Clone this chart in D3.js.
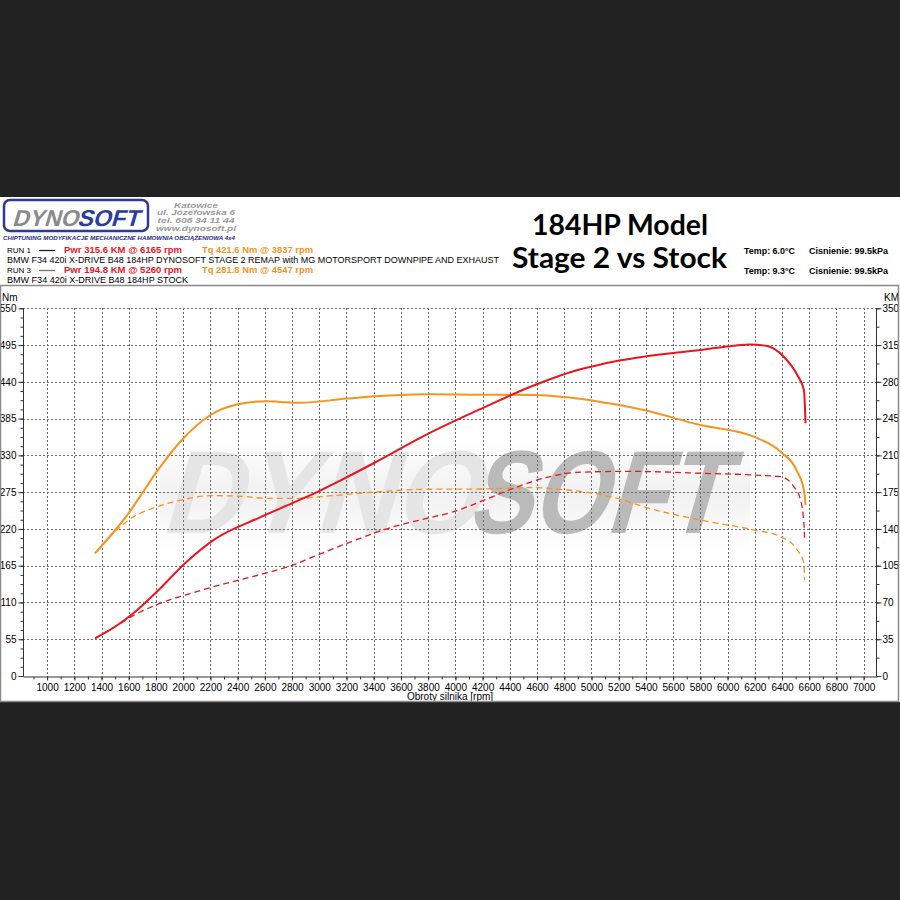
<!DOCTYPE html>
<html><head><meta charset="utf-8">
<script src="https://cdn.jsdelivr.net/npm/d3@7"></script>
<style>body{margin:0;background:#222222;}svg{display:block}</style>
</head><body>
<svg id="c" width="900" height="900"></svg>
<script>
// ---------- DATA ----------
const rpmTicks = [1000,1200,1400,1600,1800,2000,2200,2400,2600,2800,3000,3200,3400,3600,3800,4000,4200,4400,4600,4800,5000,5200,5400,5600,5800,6000,6200,6400,6600,6800,7000];
const nmTicks = [0,55,110,165,220,275,330,385,440,495,550];
const kmTicks = [0,35,70,105,140,175,210,245,280,315,350];

// RUN 1 (Stage 2) torque [Nm]
const run1TqRpm = [1352,1512,1597,1707,1806,1990,2198,2394,2615,2713,2860,3203,3448,3791,3837,4183,4575,4821,5066,5213,5384,5801,6193,6389,6512,6561,6573];
const run1TqNm  = [183.5,221,243,276,305.6,353,390,406,411,410,408.7,415,418.8,421.4,421.6,420.7,420.5,416.8,410,405,397.8,375.4,358,335.5,305.6,278,255.8];
// RUN 1 (Stage 2) power [KM]
const run1PwrRpm = [1352,1499,1634,1806,2026,2222,2565,2810,3007,3154,3399,3791,4183,4575,4918,5066,5213,5384,5801,6046,6165,6291,6413,6512,6561,6573];
const run1PwrKm  = [35.9,46.9,59.7,80.2,108.8,129.4,151,165,176.5,186,202.5,230,254,276.5,292,296.5,300.5,304,310.3,314.4,315.6,314.1,303.9,286.5,272.2,240.5];
// RUN 3 (Stock) torque [Nm]
const run3TqRpm = [1352,1536,1634,1806,2002,2198,2394,2615,2860,3007,3448,3742,4183,4547,4821,5016,5213,5384,5801,6193,6389,6512,6561,6566];
const run3TqNm  = [183.5,223,238,253,264,269.7,269.2,265.8,265.8,268.2,275.7,279.2,279.7,281.8,278.2,273.3,264.3,253.2,233.3,218.4,208.3,188.5,168.6,143.6];
// RUN 3 (Stock) power [KM]
const run3PwrRpm = [1352,1499,1640,1781,1900,2026,2222,2565,2810,2957,3203,3546,3791,3987,4183,4428,4674,4918,5260,5801,6389,6487,6536,6561,6566];
const run3PwrKm  = [35.9,46.9,58,66.5,72.5,77.5,85,96.5,105.7,113.6,126.3,142.1,150.1,156.4,165.9,178.7,189.1,194,194.8,193,189.7,180.2,167.5,145.3,129.4];

// ---------- DRAW ----------
const svg = d3.select('#c');
const RED = '#e8161e', ORANGE = '#f7941d';
const FONT = '"Liberation Sans", Arial, sans-serif';

svg.append('rect').attr('x',0).attr('y',197).attr('width',900).attr('height',505).attr('fill','#ffffff');

const x = d3.scaleLinear().domain([823, 7098]).range([23, 877]);
const yNm = d3.scaleLinear().domain([0, 550]).range([676, 308.3]);
const yKm = d3.scaleLinear().domain([0, 350]).range([676, 308.3]);

// watermark shading
const defs = svg.append('defs');
const g1 = defs.append('linearGradient').attr('id','shade').attr('x1',0).attr('y1',0).attr('x2',0).attr('y2',1);
g1.append('stop').attr('offset','0%').attr('stop-color','#ffffff');
g1.append('stop').attr('offset','50%').attr('stop-color','#f1f1f1');
g1.append('stop').attr('offset','100%').attr('stop-color','#ffffff');
svg.append('rect').attr('x',160).attr('y',438).attr('width',590).attr('height',112).attr('fill','url(#shade)');

// watermark
svg.append('text').attr('transform','translate(160,533) skewX(-16)')
  .attr('font-family',FONT).attr('font-weight','bold').attr('font-size',118)
  .attr('fill','#e5e5e5').attr('textLength',318).attr('lengthAdjust','spacingAndGlyphs').text('DYNO');
svg.append('text').attr('transform','translate(466,533) skewX(-16)')
  .attr('font-family',FONT).attr('font-weight','bold').attr('font-size',118)
  .attr('fill','#bababa').attr('textLength',256).attr('lengthAdjust','spacingAndGlyphs').text('SOFT');

// gridlines
const grid = svg.append('g').attr('stroke','#6a6a6a').attr('stroke-width',1).attr('stroke-dasharray','2,2');
grid.selectAll('line.h').data(nmTicks.slice(1)).join('line')
  .attr('x1',23).attr('x2',877).attr('y1',d=>Math.round(yNm(d))+0.5).attr('y2',d=>Math.round(yNm(d))+0.5);
grid.selectAll('line.v').data(rpmTicks).join('line')
  .attr('x1',d=>Math.round(x(d))+0.5).attr('x2',d=>Math.round(x(d))+0.5).attr('y1',308).attr('y2',676);

// axes
function styleAxis(g){
  g.selectAll('text').attr('font-family',FONT).attr('font-size','10px').attr('fill','#000');
  g.selectAll('line,path').attr('stroke','#333');
}
const minorNm = d3.range(0, 550.01, 13.75);
const minorKm = d3.range(0, 350.01, 17.5);
const minorRpm = d3.range(900, 7001, 100);
const fmt = d3.format('d');

svg.append('g').attr('transform','translate(23.5,0)')
  .call(d3.axisLeft(yNm).tickValues(minorNm).tickSize(3).tickFormat(''))
  .call(g=>g.select('.domain').remove()).call(styleAxis);
svg.append('g').attr('transform','translate(23.5,0)')
  .call(d3.axisLeft(yNm).tickValues(nmTicks).tickFormat(fmt).tickSize(5).tickPadding(2).tickSizeOuter(0)).call(styleAxis)
  .call(g=>g.select('.domain').attr('d','M0,308V676'));

svg.append('g').attr('transform','translate(876.5,0)')
  .call(d3.axisRight(yKm).tickValues(minorKm).tickSize(3).tickFormat(''))
  .call(g=>g.select('.domain').remove()).call(styleAxis);
svg.append('g').attr('transform','translate(876.5,0)')
  .call(d3.axisRight(yKm).tickValues(kmTicks).tickFormat(fmt).tickSize(5).tickPadding(1).tickSizeOuter(0)).call(styleAxis)
  .call(g=>g.select('.domain').attr('d','M0,308V676'));

svg.append('g').attr('transform','translate(0,676.5)')
  .call(d3.axisBottom(x).tickValues(minorRpm).tickSize(3).tickFormat(''))
  .call(g=>g.select('.domain').remove()).call(styleAxis);
svg.append('g').attr('transform','translate(0,676.5)')
  .call(d3.axisBottom(x).tickValues(rpmTicks).tickFormat(fmt).tickSize(4).tickPadding(3).tickSizeOuter(0)).call(styleAxis);

svg.append('text').attr('x',2).attr('y',301).attr('font-family',FONT).attr('font-size','10px').text('Nm');
svg.append('text').attr('x',884).attr('y',301).attr('font-family',FONT).attr('font-size','10px').text('KM');
svg.append('text').attr('x',450).attr('y',700).attr('text-anchor','middle').attr('font-family',FONT).attr('font-size','10px').text('Obroty silnika [rpm]');

// curves
function series(rpms, vals){ return rpms.map((r,i)=>[r, vals[i]]); }
const lineNm = d3.line().x(d=>x(d[0])).y(d=>yNm(d[1])).curve(d3.curveMonotoneX);
const lineKm = d3.line().x(d=>x(d[0])).y(d=>yKm(d[1])).curve(d3.curveMonotoneX);
const curves = svg.append('g').attr('fill','none').attr('stroke-linejoin','round');
curves.append('path').attr('d', lineNm(series(run3TqRpm, run3TqNm))).attr('stroke',ORANGE).attr('stroke-width',1.3).attr('stroke-dasharray','6,4');
curves.append('path').attr('d', lineKm(series(run3PwrRpm, run3PwrKm))).attr('stroke',RED).attr('stroke-width',1.3).attr('stroke-dasharray','6,4');
curves.append('path').attr('d', lineNm(series(run1TqRpm, run1TqNm))).attr('stroke',ORANGE).attr('stroke-width',2);
curves.append('path').attr('d', lineKm(series(run1PwrRpm, run1PwrKm))).attr('stroke',RED).attr('stroke-width',2);

// frame
svg.append('path').attr('d','M0.5,285.5H898.5V701.5H0.5Z').attr('fill','none').attr('stroke','#8a8a8a').attr('stroke-width',1.5);

// logo
svg.append('rect').attr('x',4).attr('y',200).attr('width',144).attr('height',31).attr('rx',6)
  .attr('fill','#fff').attr('stroke','#2e3a96').attr('stroke-width',2.5);
svg.append('text').attr('transform','translate(12,226) skewX(-16)').attr('font-family',FONT).attr('font-weight','bold')
  .attr('font-size',23).attr('fill','#8a8a8a').attr('textLength',66).attr('lengthAdjust','spacingAndGlyphs').text('DYNO');
svg.append('text').attr('transform','translate(77,226) skewX(-16)').attr('font-family',FONT).attr('font-weight','bold')
  .attr('font-size',23).attr('fill','#2b3c9e').attr('textLength',62).attr('lengthAdjust','spacingAndGlyphs').text('SOFT');

const addr = ['Katowice','ul. Józefowska 6','tel. 606 34 11 44','www.dynosoft.pl'];
const addrW = [44,78,77,80];
svg.append('g').selectAll('text').data(addr).join('text')
  .attr('x',196).attr('y',(d,i)=>207.5+i*7.7).attr('text-anchor','middle')
  .attr('font-family',FONT).attr('font-weight','bold').attr('font-style','italic').attr('font-size','6.4px').attr('fill','#9a9a9a')
  .attr('textLength',(d,i)=>addrW[i]).attr('lengthAdjust','spacingAndGlyphs').text(d=>d);
svg.append('text').attr('x',3).attr('y',240).attr('font-family',FONT).attr('font-weight','bold').attr('font-style','italic')
  .attr('font-size','5.5px').attr('fill','#1d2a8a').attr('textLength',232).attr('lengthAdjust','spacingAndGlyphs')
  .text('CHIPTUNING   MODYFIKACJE MECHANICZNE   HAMOWNIA OBCIĄŻENIOWA 4x4');

// run legend
function runLine(y, run, lineCol, pwr, tq, desc){
  svg.append('text').attr('x',7).attr('y',y+3).attr('font-family',FONT).attr('font-size','8px').text(run);
  svg.append('line').attr('x1',39).attr('x2',55).attr('y1',y+0.5).attr('y2',y+0.5).attr('stroke',lineCol).attr('stroke-width',1.3);
  svg.append('text').attr('x',64).attr('y',y+3.2).attr('font-family',FONT).attr('font-weight','bold').attr('font-size','8.6px')
    .attr('fill',RED).attr('textLength',118).attr('lengthAdjust','spacingAndGlyphs').text(pwr);
  svg.append('text').attr('x',202).attr('y',y+3.2).attr('font-family',FONT).attr('font-weight','bold').attr('font-size','8.6px')
    .attr('fill',ORANGE).attr('textLength',111).attr('lengthAdjust','spacingAndGlyphs').text(tq);
  const t = svg.append('text').attr('x',7).attr('y',y+13).attr('font-family',FONT).attr('font-size','8.5px').text(desc);
  return t;
}
runLine(250,'RUN 1','#222','Pwr  315.6 KM @ 6165 rpm','Tq 421.6 Nm @ 3837 rpm','BMW F34 420i X-DRIVE B48 184HP DYNOSOFT STAGE 2 REMAP with MG MOTORSPORT DOWNPIPE AND EXHAUST')
  .attr('textLength',492).attr('lengthAdjust','spacingAndGlyphs');
runLine(270,'RUN 3','#777','Pwr  194.8 KM @ 5260 rpm','Tq 281.8 Nm @ 4547 rpm','BMW F34 420i X-DRIVE B48 184HP STOCK')
  .attr('textLength',181).attr('lengthAdjust','spacingAndGlyphs');

// title
svg.append('text').attr('x',620).attr('y',235).attr('text-anchor','middle').attr('font-family','Lato, "Open Sans", sans-serif')
  .attr('font-weight','bold').attr('font-size',28).attr('textLength',176).attr('lengthAdjust','spacingAndGlyphs').text('184HP Model');
svg.append('text').attr('x',619.5).attr('y',267.5).attr('text-anchor','middle').attr('font-family','Lato, "Open Sans", sans-serif')
  .attr('font-weight','bold').attr('font-size',28).attr('textLength',215).attr('lengthAdjust','spacingAndGlyphs').text('Stage 2 vs Stock');

// conditions
const temps = ['Temp: 6.0°C','Temp: 9.3°C'];
const press = ['Cisnienie: 99.5kPa','Cisnienie: 99.5kPa'];
svg.append('g').selectAll('text').data(temps).join('text').attr('x',744).attr('y',(d,i)=>254+i*20)
  .attr('font-family',FONT).attr('font-weight','bold').attr('font-size','9.5px').attr('textLength',51).attr('lengthAdjust','spacingAndGlyphs').text(d=>d);
svg.append('g').selectAll('text').data(press).join('text').attr('x',809).attr('y',(d,i)=>254+i*20)
  .attr('font-family',FONT).attr('font-weight','bold').attr('font-size','9.5px').attr('textLength',79).attr('lengthAdjust','spacingAndGlyphs').text(d=>d);
</script>
</body></html>
